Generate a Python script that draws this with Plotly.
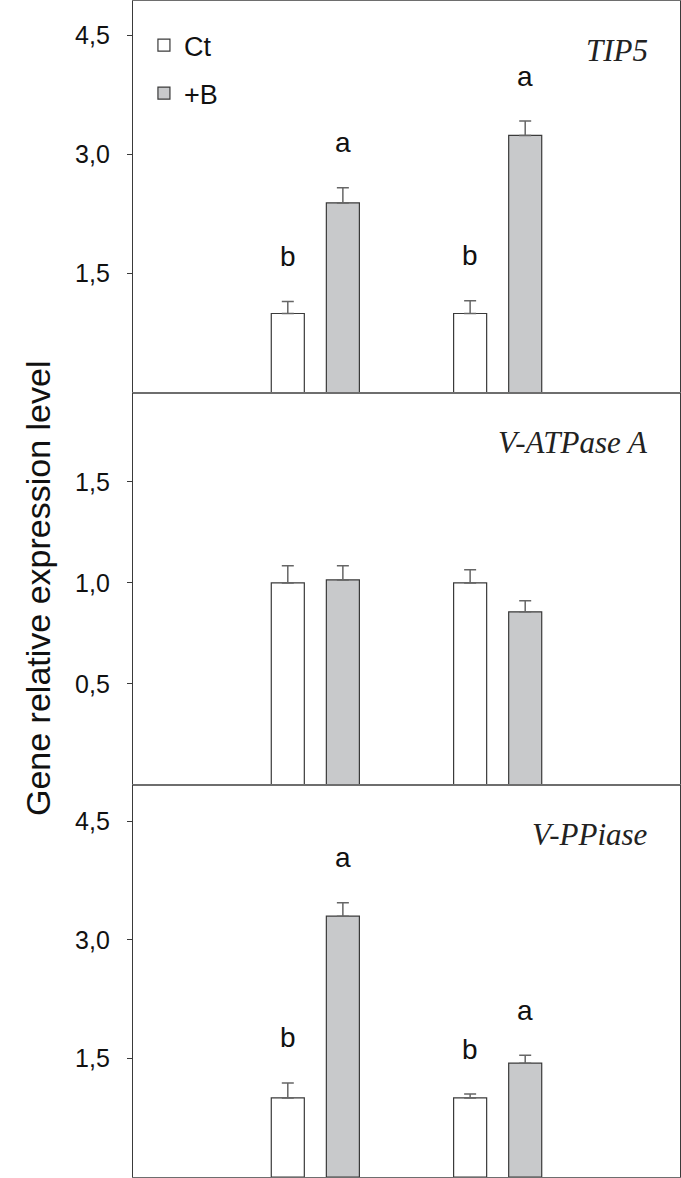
"""Gene relative expression, three stacked bar panels (Ct vs +B)."""

import plotly.graph_objects as go
from plotly.subplots import make_subplots


# ----- Data -----
GROUPS = ["G1", "G2"]
GENES = ["TIP5", "V-ATPase A", "V-PPiase"]

CT_MEAN = [[1.00, 1.00], [1.00, 1.00], [1.00, 1.00]]
CT_ERR = [[0.15, 0.16], [0.085, 0.065], [0.19, 0.05]]
B_MEAN = [[2.39, 3.24], [1.015, 0.857], [3.30, 1.44]]
B_ERR = [[0.19, 0.18], [0.07, 0.055], [0.17, 0.10]]

CT_LETTERS = [["b", "b"], ["", ""], ["b", "b"]]
B_LETTERS = [["a", "a"], ["", ""], ["a", "a"]]

Y_TICKS = [[1.5, 3.0, 4.5], [0.5, 1.0, 1.5], [1.5, 3.0, 4.5]]
Y_MAX = [4.93, 1.94, 4.96]

# ----- Style -----
WHITE = "#ffffff"
GRAY = "#c8c9cb"
LINE = "#3a3a3a"
ERR = "#666666"
SANS = "Liberation Sans, Arial, sans-serif"
SERIF = "Liberation Serif, Times New Roman, serif"

W, H = 681, 1178
M = dict(l=133, r=1, t=1, b=1)
BARGAP = 0.396
GROUPGAP = 0.4


fig = make_subplots(rows=3, cols=1, shared_xaxes=True, vertical_spacing=0)

# pixel offset of each bar from its category centre
plot_w = W - M["l"] - M["r"]
unit_px = plot_w / 3
half_offset = unit_px * (1 - BARGAP) / 4

for i, gene in enumerate(GENES):
    row = i + 1
    ax = "" if row == 1 else str(row)
    for name, mean, err, fill in (
        ("Ct", CT_MEAN[i], CT_ERR[i], WHITE),
        ("+B", B_MEAN[i], B_ERR[i], GRAY),
    ):
        fig.add_trace(
            go.Bar(
                x=GROUPS,
                y=mean,
                name=name,
                legendgroup=name,
                showlegend=(i == 0),
                marker=dict(color=fill, line=dict(color=LINE, width=1.2)),
                error_y=dict(
                    type="data",
                    array=err,
                    arrayminus=[0] * len(err),
                    symmetric=False,
                    color=ERR,
                    thickness=1.5,
                    width=6,
                ),
                hoverinfo="skip",
            ),
            row=row,
            col=1,
        )

    # significance letters above the error bars
    for j, grp in enumerate(GROUPS):
        for letters, mean, err, sign in (
            (CT_LETTERS, CT_MEAN, CT_ERR, -1),
            (B_LETTERS, B_MEAN, B_ERR, 1),
        ):
            if not letters[i][j]:
                continue
            fig.add_annotation(
                x=grp,
                y=mean[i][j] + err[i][j],
                xref=f"x{ax}",
                yref=f"y{ax}",
                text=letters[i][j],
                showarrow=False,
                xshift=sign * half_offset,
                yshift=45,
                yanchor="middle",
                font=dict(family=SANS, size=28, color="#111111"),
            )

    # gene name, top right of each panel
    fig.add_annotation(
        x=0.945,
        y=0.875,
        xref=f"x{ax} domain",
        yref=f"y{ax} domain",
        text=f"<i>{gene}</i>",
        showarrow=False,
        xanchor="right",
        yanchor="middle",
        font=dict(family=SERIF, size=31, color="#222222"),
    )

    fig.update_yaxes(
        row=row,
        col=1,
        range=[0, Y_MAX[i]],
        tickvals=Y_TICKS[i],
        tickformat=".1f",
        ticks="outside",
        ticklen=5,
        tickwidth=1,
        tickcolor=LINE,
        ticklabelstandoff=12,
        tickfont=dict(family=SANS, size=25, color="#111111"),
        showgrid=False,
        zeroline=False,
        showline=True,
        linecolor=LINE,
        linewidth=1.3,
        mirror=True,
    )
    fig.update_xaxes(
        row=row,
        col=1,
        range=[-1, 2],
        showticklabels=False,
        ticks="",
        showgrid=False,
        zeroline=False,
        showline=True,
        linecolor="#6e6e6e",
        linewidth=1.2,
        mirror=True,
    )

# shared y title, placed in the left margin
fig.add_annotation(
    x=-(M["l"] - 17) / plot_w,
    y=0.5,
    xref="paper",
    yref="paper",
    text="Gene relative expression level",
    textangle=-90,
    showarrow=False,
    font=dict(family=SANS, size=34, color="#111111"),
)

fig.update_layout(
    width=W,
    height=H,
    margin=M,
    barmode="group",
    bargap=BARGAP,
    bargroupgap=GROUPGAP,
    separators=", ",
    template="plotly_white",
    plot_bgcolor="white",
    paper_bgcolor="white",
    legend=dict(
        x=0.02,
        y=0.983,
        xanchor="left",
        yanchor="top",
        bgcolor="rgba(0,0,0,0)",
        tracegroupgap=10,
        font=dict(family=SANS, size=27, color="#111111"),
    ),
    showlegend=True,
)

fig.write_html(
    "out.html",
    config={"displayModeBar": False},
    post_script="document.body.style.margin='0';",
)
